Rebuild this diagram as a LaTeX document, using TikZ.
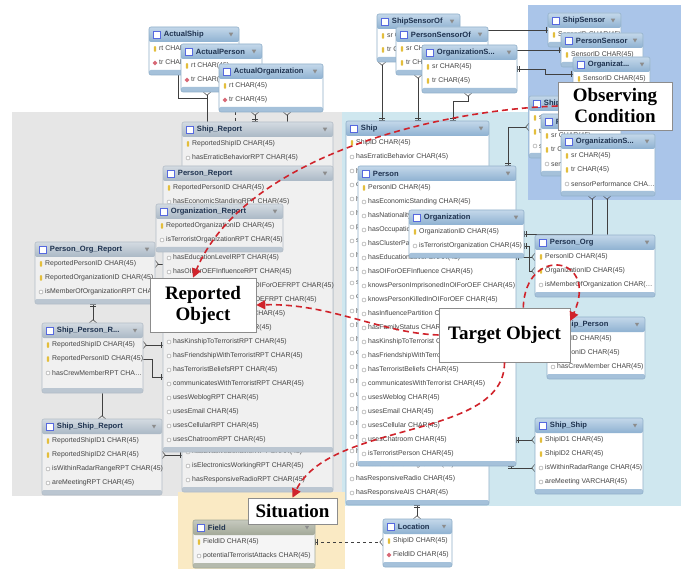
\documentclass[tikz,border=0pt]{standalone}
\usepackage{fontspec}
\setsansfont{Liberation Sans}
\newfontfamily\lblfont{Liberation Serif}
\usepackage{tikz}
\usetikzlibrary{calc}
\usetikzlibrary{arrows.meta}
\usetikzlibrary{shapes.geometric}
\definecolor{graybg}{HTML}{E6E6E6}
\definecolor{bluebg}{HTML}{CFE7EF}
\definecolor{darkbg}{HTML}{AAC5E9}
\definecolor{yellowbg}{HTML}{FAEAC4}
\definecolor{mtop}{HTML}{C4D8EA}
\definecolor{mbot}{HTML}{8EB1D1}
\definecolor{mline}{HTML}{8FAFC9}
\definecolor{rtop}{HTML}{D4DBE2}
\definecolor{rbot}{HTML}{AAB8C5}
\definecolor{rline}{HTML}{B2BCC6}
\definecolor{ftop}{HTML}{C6C9BE}
\definecolor{fbot}{HTML}{A3A999}
\definecolor{titletxt}{HTML}{1F3350}
\definecolor{rowtxt}{HTML}{444444}
\definecolor{keyyel}{HTML}{E3BE3C}
\definecolor{fkred}{HTML}{D86876}
\definecolor{redarrow}{HTML}{D0232B}

\pgfdeclarelayer{bg}
\pgfdeclarelayer{lines}
\pgfsetlayers{bg,lines,main}

\tikzset{
  crow/.tip={Straight Barb[reversed,length=3pt,width=7pt]},
  bars/.tip={Bar[width=6pt,sep=1.5pt]Bar[width=6pt]},
  mbody/.style={fill=white, inner sep=0, outer sep=0, rounded corners=2pt},
  mhead/.style={top color=mtop, bottom color=mbot, inner sep=0, outer sep=0, rounded corners=2pt},
  mfoot/.style={fill=mbot!80, inner sep=0, outer sep=0, rounded corners=2pt},
  mbox/.style={draw=mline, line width=0.6pt, inner sep=0, outer sep=0, rounded corners=2pt},
  rbody/.style={fill=black!6, inner sep=0, outer sep=0, rounded corners=2pt},
  rhead/.style={top color=rtop, bottom color=rbot, inner sep=0, outer sep=0, rounded corners=2pt},
  rfoot/.style={fill=rbot!80, inner sep=0, outer sep=0, rounded corners=2pt},
  rbox/.style={draw=rline, line width=0.6pt, inner sep=0, outer sep=0, rounded corners=2pt},
  fbody/.style={fill=black!4, inner sep=0, outer sep=0, rounded corners=2pt},
  fhead/.style={top color=ftop, bottom color=fbot, inner sep=0, outer sep=0, rounded corners=2pt},
  ffoot/.style={fill=fbot!80, inner sep=0, outer sep=0, rounded corners=2pt},
  fbox/.style={draw=fbot, line width=0.6pt, inner sep=0, outer sep=0, rounded corners=2pt},
  ticon/.style={draw=mline!60!blue, fill=white, minimum size=7pt, inner sep=0, line width=0.5pt},
  ttitle/.style={font=\sffamily\bfseries\fontsize{7.6}{8}\selectfont, text=titletxt, inner sep=0},
  tdrop/.style={regular polygon, regular polygon sides=3, shape border rotate=180, fill=black!45, minimum size=5pt, inner sep=0},
  trow/.style={anchor=west, font=\sffamily\fontsize{6.9}{7}\selectfont, text=rowtxt, inner sep=0},
  ick/.style={fill=keyyel, minimum width=2.4pt, minimum height=5.5pt, inner sep=0, rounded corners=0.8pt},
  icf/.style={diamond, fill=fkred, minimum size=5pt, inner sep=0},
  ico/.style={circle, draw=black!40, fill=white, minimum size=4pt, inner sep=0, line width=0.4pt},
  rel/.style={draw=black!75, line width=0.5pt},
  reddash/.style={draw=redarrow, line width=1.6pt, dash pattern=on 6pt off 4pt, -{Triangle[length=9pt,width=9pt]}},
  lbl/.style={draw=black!45, fill=white, line width=0.6pt, align=center, inner sep=0, font=\lblfont\bfseries\fontsize{19}{21}\selectfont}
}

% table: name, left, top, width, height, title, type (m/r/f), rows
\newcommand{\ertable}[8]{%
  \node[#7body, minimum width=#4pt, minimum height=#5pt, anchor=north west] (#1) at (#2,#3) {};
  \node[#7head, minimum width=#4pt, minimum height=15pt, anchor=north west] (#1-h) at (#1.north west) {};
  \node[#7foot, minimum width=#4pt, minimum height=5pt, anchor=south west] (#1-f) at (#1.south west) {};
  \node[#7box, minimum width=#4pt, minimum height=#5pt, anchor=north west] (#1-b) at (#1.north west) {};
  \node[ticon] (#1-i) at ($(#1.north west)+(8,7.5)$) {};
  \node[ttitle, anchor=west] (#1-t) at ($(#1-i.east)+(3,0)$) {#6};
  \node[tdrop] (#1-d) at ($(#1.north east)+(-8,7)$) {};
  \foreach \k/\txt [count=\r] in {#8} {
    \node[ic\k] (#1-k\r) at ($(#1.north west)+(6,{8+14*\r})$) {};
    \node[trow] (#1-r\r) at ($(#1.north west)+(10,{8+14*\r})$) {\txt};
  }%
}

\begin{document}
\begin{tikzpicture}[x=1pt,y=-1pt]
  \useasboundingbox (0,0) rectangle (685,569);

  % shaded areas
  \begin{pgfonlayer}{bg}
    \fill[white] (0,0) rectangle (685,569);
    \fill[graybg] (12,112) rectangle (342,496);
    \fill[bluebg] (342,112) rectangle (681,506);
    \fill[darkbg] (528,5) rectangle (681,200);
    \fill[yellowbg] (178,492) rectangle (345,569);
  \end{pgfonlayer}

  % top tables
  \ertable{aship}{149}{27}{90}{48}{ActualShip}{m}{k/rt CHAR(45), f/tr CHAR(45)}
  \ertable{aper}{181}{44}{81}{48}{ActualPerson}{m}{k/rt CHAR(45), f/tr CHAR(45)}
  \ertable{aorg}{219}{64}{104}{48}{ActualOrganization}{m}{k/rt CHAR(45), f/tr CHAR(45)}
  \ertable{sso}{377}{14}{83}{48}{ShipSensorOf}{m}{k/sr CHAR(45), k/tr CHAR(45)}
  \ertable{pso}{396}{27}{92}{48}{PersonSensorOf}{m}{k/sr CHAR(45), k/tr CHAR(45)}
  \ertable{oso}{422}{45}{95}{48}{OrganizationS...}{m}{k/sr CHAR(45), k/tr CHAR(45)}

  % observing condition tables
  \ertable{ssen}{548}{13}{73}{34}{ShipSensor}{m}{k/SensorID CHAR(45)}
  \ertable{psen}{561}{33}{82}{34}{PersonSensor}{m}{k/SensorID CHAR(45)}
  \ertable{osen}{573}{57}{77}{34}{Organizat...}{m}{k/SensorID CHAR(45)}
  \ertable{sx1}{529}{96}{80}{62}{ShipS...}{m}{k/sr CHAR(45), k/tr CHAR(45), o/sensorPerformance CHA\dots}
  \ertable{sx2}{541}{114}{80}{62}{PersonS...}{m}{k/sr CHAR(45), k/tr CHAR(45), o/sensorPerformance CHA\dots}
  \ertable{sx3}{561}{134}{94}{62}{OrganizationS...}{m}{k/sr CHAR(45), k/tr CHAR(45), o/sensorPerformance CHA\dots}

  % reported object tables
  \ertable{srep}{182}{122}{151}{370}{Ship\_Report}{r}{k/ReportedShipID CHAR(45), o/hasErraticBehaviorRPT CHAR(45),
    o/{}, o/{}, o/{}, o/{}, o/{}, o/{}, o/{}, o/{}, o/{}, o/{}, o/{}, o/{}, o/{}, o/{}, o/{}, o/{}, o/{}, o/{}, o/{}, o/{},
    o/hasEvasiveBehaviorRPT CHAR(45), o/isElectronicsWorkingRPT CHAR(45), o/hasResponsiveRadioRPT CHAR(45)}
  \ertable{prep}{163}{166}{170}{286}{Person\_Report}{r}{k/ReportedPersonID CHAR(45), o/hasEconomicStandingRPT CHAR(45),
    o/hasNationalityRPT CHAR(45), o/hasOccupationRPT CHAR(45), o/hasClusterPartitionRPT CHAR(45),
    o/hasEducationLevelRPT CHAR(45), o/hasOIForOEFInfluenceRPT CHAR(45), o/knowsPersonImprisonedInOIForOEFRPT CHAR(45),
    o/knowsPersonKilledInOIForOEFRPT CHAR(45), o/hasInfluencePartitionRPT CHAR(45), o/hasFamilyStatusRPT CHAR(45),
    o/hasKinshipToTerroristRPT CHAR(45), o/hasFriendshipWithTerroristRPT CHAR(45), o/hasTerroristBeliefsRPT CHAR(45),
    o/communicatesWithTerroristRPT CHAR(45), o/usesWeblogRPT CHAR(45), o/usesEmail CHAR(45),
    o/usesCellularRPT CHAR(45), o/usesChatroomRPT CHAR(45)}
  \ertable{orep}{156}{204}{127}{48}{Organization\_Report}{r}{k/ReportedOrganizationID CHAR(45), o/isTerroristOrganizationRPT CHAR(45)}
  \ertable{porep}{35}{242}{120}{62}{Person\_Org\_Report}{r}{k/ReportedPersonID CHAR(45), k/ReportedOrganizationID CHAR(45), o/isMemberOfOrganizationRPT CHAR(45)}
  \ertable{sprep}{42}{323}{101}{70}{Ship\_Person\_R...}{r}{k/ReportedShipID CHAR(45), k/ReportedPersonID CHAR(45), o/hasCrewMemberRPT CHA\dots}
  \ertable{ssrep}{42}{419}{120}{76}{Ship\_Ship\_Report}{r}{k/ReportedShipID1 CHAR(45), k/ReportedShipID2 CHAR(45), o/isWithinRadarRangeRPT CHAR(45), o/areMeetingRPT CHAR(45)}

  % target object tables
  \ertable{ship}{346}{121}{143}{384}{Ship}{m}{k/ShipID CHAR(45), o/hasErraticBehavior CHAR(45),
    o/h, o/c, o/h, o/h, o/p, o/s, o/h, o/t, o/s, o/c, o/h, o/h, o/h, o/c, o/h, o/h, o/u, o/h, o/h, o/h, o/h,
    o/isElectronicsWorking CHAR(45), o/hasResponsiveRadio CHAR(45), o/hasResponsiveAIS CHAR(45)}
  \ertable{per}{358}{166}{158}{300}{Person}{m}{k/PersonID CHAR(45), o/hasEconomicStanding CHAR(45),
    o/hasNationality CHAR(45), o/hasOccupation CHAR(45), o/hasClusterPartition CHAR(45), o/hasEducationLevel CHAR(45),
    o/hasOIForOEFInfluence CHAR(45), o/knowsPersonImprisonedInOIForOEF CHAR(45), o/knowsPersonKilledInOIForOEF CHAR(45),
    o/hasInfluencePartition CHAR(45), o/hasFamilyStatus CHAR(45), o/hasKinshipToTerrorist CHAR(45),
    o/hasFriendshipWithTerrorist CHAR(45), o/hasTerroristBeliefs CHAR(45), o/communicatesWithTerrorist CHAR(45),
    o/usesWeblog CHAR(45), o/usesEmail CHAR(45), o/usesCellular CHAR(45), o/usesChatroom CHAR(45), o/isTerroristPerson CHAR(45)}
  \ertable{org}{409}{210}{115}{48}{Organization}{m}{k/OrganizationID CHAR(45), o/isTerroristOrganization CHAR(45)}
  \ertable{po}{535}{235}{120}{62}{Person\_Org}{m}{k/PersonID CHAR(45), k/OrganizationID CHAR(45), o/isMemberOfOrganization CHAR(\dots}
  \ertable{sp}{547}{317}{98}{62}{Ship\_Person}{m}{k/ShipID CHAR(45), k/PersonID CHAR(45), o/hasCrewMember CHAR(45)}
  \ertable{ss}{535}{418}{108}{76}{Ship\_Ship}{m}{k/ShipID1 CHAR(45), k/ShipID2 CHAR(45), o/isWithinRadarRange CHAR(45), o/areMeeting VARCHAR(45)}

  % situation tables
  \ertable{fld}{193}{520}{122}{48}{Field}{f}{k/FieldID CHAR(45), o/potentialTerroristAttacks CHAR(45)}
  \ertable{loc}{383}{519}{69}{48}{Location}{m}{k/ShipID CHAR(45), f/FieldID CHAR(45)}

  % relationship lines
  \begin{pgfonlayer}{lines}
    \draw[rel] ($(aship.south west)+(29,0)$) |- ($(aper.south west)+(26,6)$);
    \draw[rel, crow-] ($(aper.south west)+(26,0)$) -- ($(srep.north west)+(25,0)$);
    \draw[rel, dashed] ($(aorg.south west)+(16,0)$) -- ($(srep.north west)+(53,0)$);
    \draw[rel, crow-bars] ($(aorg.south west)+(36,0)$) -- ($(srep.north west)+(73,0)$);
    \draw[rel, crow-] ($(aorg.south west)+(68,0)$) -- ($(srep.north west)+(105,0)$);
    \draw[rel, crow-bars] ($(sso.south west)+(5,0)$) -- ($(ship.north west)+(36,0)$);
    \draw[rel, crow-bars] ($(pso.south west)+(22,0)$) -- ($(ship.north west)+(72,0)$);
    \draw[rel, crow-bars] ($(oso.south west)+(46,0)$) -- ++(0,8) -| ($(ship.north west)+(107,0)$);
    \draw[rel, -bars] (sso.east |- ssen.west) -- (ssen.west);
    \draw[rel, -bars] (pso.east |- psen.west) -- (psen.west);
    \draw[rel, bars-bars] (oso.east) -- ++(28,0) |- (osen.west);
    \draw[rel, bars-crow] ($(per.north east)+(-8,0)$) |- ($(sx1.north west)+(0,31)$);
    \draw[rel, crow-bars] ($(sx3.south west)+(31,0)$) |- (org.east);
    \draw[rel, crow-] ($(sx3.south west)+(46,0)$) -- ($(po.north west)+(72,0)$);
    \draw[rel, bars-crow] (per.east |- po-r1) -- (po.west |- po-r1);
    \draw[rel, bars-crow] (org.east |- org-r2) -- ++(5,0) |- (po.west |- po-r2);
    \draw[rel, bars-crow] (per.east |- sp-r2) -- (sp.west |- sp-r2);
    \draw[rel, bars-crow] (per.east |- ss-r1) -- (ss.west |- ss-r1);
    \draw[rel, bars-crow] ($(per.south east)+(-5,0)$) |- (ss.west |- ss-r3);
    \draw[rel, bars-crow] ($(ship.south west)+(71,0)$) -- ($(loc.north west)+(34,0)$);
    \draw[rel, dashed, bars-crow] (fld.east |- fld-r1) -- (loc.west |- fld-r1);
    \draw[rel, crow-] (porep.east |- porep-r1) -- (prep.west |- porep-r1);
    \draw[rel, bars-crow] ($(porep.south west)+(58,0)$) -- ($(sprep.north west)+(51,0)$);
    \draw[rel, -crow] ($(sprep.south west)+(60,0)$) -- ($(ssrep.north west)+(60,0)$);
    \draw[rel, crow-bars] (sprep.east |- sprep-r1) -- (prep.west |- sprep-r1);
    \draw[rel, -bars] (sprep.east |- sprep-r2) -- ++(9,0) |- ($(prep.south west)+(0,-75)$);
    \draw[rel, crow-bars] (ssrep.east |- ssrep-r2) -- (srep.west |- ssrep-r2);
  \end{pgfonlayer}

  % category labels
  \node[lbl, minimum width=106pt, minimum height=54pt] (lrep) at (203,305) {Reported\\Object};
  \node[lbl, minimum width=131pt, minimum height=54pt] (ltgt) at (504.5,335) {Target Object};
  \node[lbl, minimum width=89pt, minimum height=26pt] (lsit) at (292.5,511) {Situation};
  \node[lbl, minimum width=114pt, minimum height=48pt] (lobs) at (615,106) {Observing\\Condition};

  \draw[reddash] (lobs.west) .. controls (440,110) and (245,155) .. ($(lrep.north)+(-10,0)$);
  \draw[reddash] (ltgt.west) .. controls (380,333) and (330,303) .. (lrep.east);
  \draw[reddash] (ltgt.south) .. controls (505,440) and (330,420) .. (lsit.north);
  \draw[reddash] ($(ltgt.north east)+(-47,0)$) .. controls (525,245) and (600,255) .. ($(ltgt.east)+(0,-14)$);
\end{tikzpicture}
\end{document}
